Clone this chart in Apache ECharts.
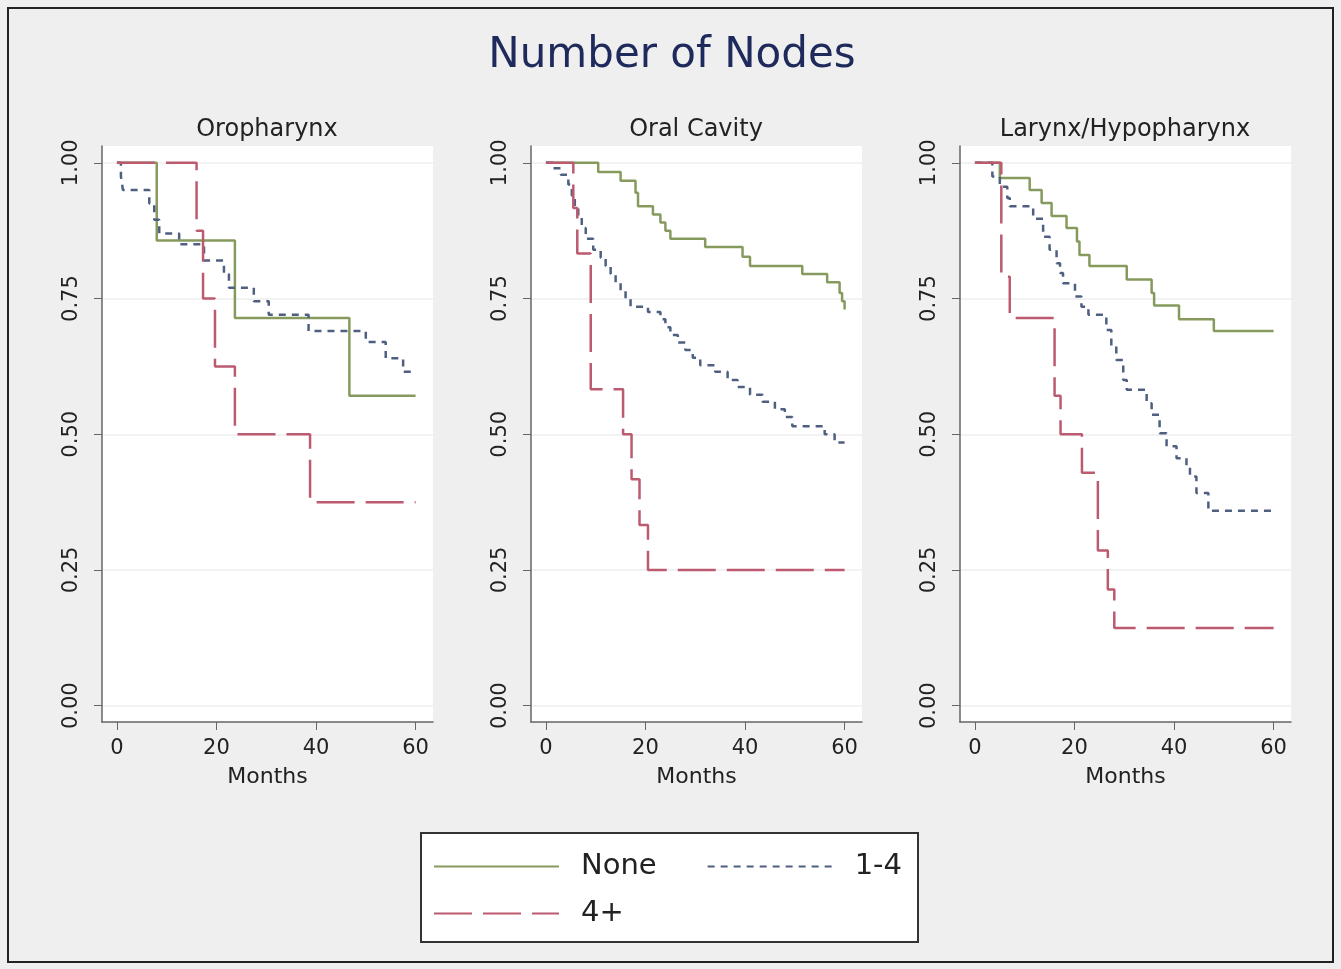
<!DOCTYPE html>
<html>
<head>
<meta charset="utf-8">
<script src="https://cdn.jsdelivr.net/npm/echarts@6/dist/echarts.min.js"></script>
<style>
  html, body { margin: 0; padding: 0; background: #efefef; }
  #chart { width: 1341px; height: 969px; }
</style>
</head>
<body>
<div id="chart"></div>
<script>
// panel titles and groups
var panels = ['Oropharynx', 'Oral Cavity', 'Larynx/Hypopharynx'];
var groups = ['None', '1-4', '4+'];
var xTicks = [0, 20, 40, 60];
var yTicks = [0, 0.25, 0.5, 0.75, 1];

// Kaplan-Meier steps: [month, survival after that month]
var oroNone = [[0, 1], [8, 0.857], [23.7, 0.714], [46.7, 0.571], [60, 0.571]];
var oroMid = [[0, 1], [0.8, 0.975], [1.2, 0.95], [6.5, 0.925], [7.5, 0.895], [8.5, 0.87], [12.5, 0.85],
  [17.5, 0.82], [21.5, 0.795], [22.5, 0.77], [27.5, 0.745], [30.5, 0.72], [38.5, 0.69], [50, 0.67],
  [54, 0.64], [57.5, 0.615], [60, 0.615]];
var oroHigh = [[0, 1], [16, 0.875], [17.3, 0.75], [19.7, 0.625], [23.7, 0.5], [38.8, 0.375], [60, 0.375]];

var ocNone = [[0, 1], [10.5, 0.983], [15, 0.967], [18, 0.945], [18.5, 0.92], [21.5, 0.905], [23, 0.89],
  [24, 0.875], [25, 0.86], [32, 0.845], [39.5, 0.827], [41, 0.81], [51.5, 0.795], [56.5, 0.78],
  [59, 0.76], [59.5, 0.745], [60, 0.73]];
var ocMid = [[0, 1], [1.5, 0.99], [3, 0.978], [4.5, 0.96], [5.2, 0.94], [5.8, 0.92], [6.5, 0.9], [7.2, 0.88],
  [8, 0.86], [9.5, 0.84], [11, 0.825], [12, 0.81], [13, 0.795], [14, 0.78], [15, 0.765], [16, 0.75],
  [17, 0.735], [20.5, 0.725], [23, 0.712], [24, 0.697], [25, 0.683], [26.5, 0.669], [28, 0.655],
  [29.5, 0.641], [31, 0.627], [34, 0.615], [36.5, 0.6], [38.5, 0.587], [41, 0.573], [43.5, 0.56],
  [46, 0.546], [48, 0.532], [49.5, 0.515], [56, 0.5], [58, 0.485], [60, 0.485]];
var ocHigh = [[0, 1], [5.5, 0.917], [6.3, 0.833], [9, 0.583], [15.5, 0.5], [17.2, 0.417], [18.8, 0.333],
  [20.5, 0.25], [60, 0.25]];

var lhNone = [[0, 1], [5, 0.972], [11, 0.95], [13.4, 0.926], [15.4, 0.902], [18.4, 0.88], [20.5, 0.855],
  [21, 0.83], [23, 0.81], [30.5, 0.785], [35.5, 0.76], [36, 0.737], [41, 0.712], [48, 0.69], [60, 0.69]];
var lhMid = [[0, 1], [3.5, 0.975], [5, 0.956], [6.5, 0.935], [7, 0.92], [11.7, 0.897], [13.7, 0.864],
  [15, 0.84], [16.4, 0.815], [17.1, 0.797], [17.7, 0.778], [20.1, 0.754], [21.4, 0.735], [22.8, 0.72],
  [26.4, 0.692], [27.4, 0.662], [28.4, 0.637], [29.8, 0.6], [30.5, 0.582], [34.5, 0.557], [35.5, 0.536],
  [37.1, 0.502], [38.5, 0.478], [40.5, 0.456], [42.5, 0.44], [43.2, 0.422], [44.5, 0.392],
  [46.9, 0.359], [60, 0.359]];
var lhHigh = [[0, 1], [5.3, 0.79], [7, 0.714], [16, 0.571], [17.2, 0.5], [21.5, 0.429], [24.7, 0.286],
  [26.7, 0.214], [28, 0.143], [60, 0.143]];

var panelData = [[oroNone, oroMid, oroHigh], [ocNone, ocMid, ocHigh], [lhNone, lhMid, lhHigh]];

var colors = ['#879a5e', '#4f5f80', '#bc5a70'];
var dashes = ['solid', [7, 6], [38, 11]];
var font = 'DejaVu Sans';

var chart = echarts.init(document.getElementById('chart'));

var grids = [], xAxes = [], yAxes = [], series = [], graphics = [];
var lefts = [102, 531, 960];

graphics.push({
  type: 'rect', z: 0,
  shape: { x: 8, y: 8, width: 1325, height: 954 },
  style: { fill: 'none', stroke: '#222', lineWidth: 2 }
});
graphics.push({
  type: 'text', z: 5, x: 672, y: 56,
  style: { text: 'Number of Nodes', fill: '#1f2a5c', font: '42px ' + font, textAlign: 'center', textVerticalAlign: 'middle' }
});
graphics.push({
  type: 'rect', z: 0,
  shape: { x: 421, y: 833, width: 497, height: 109 },
  style: { fill: '#fff', stroke: '#333', lineWidth: 2 }
});

for (var p = 0; p < 3; p++) {
  grids.push({
    left: lefts[p], top: 146, width: 331, height: 576,
    show: true, backgroundColor: '#fff', borderWidth: 0
  });
  graphics.push({
    type: 'text', z: 5, x: lefts[p] + 165, y: 130,
    style: { text: panels[p], fill: '#222', font: '24px ' + font, textAlign: 'center', textVerticalAlign: 'middle' }
  });
  xAxes.push({
    gridIndex: p, type: 'value', min: -3, max: 63.5,
    name: 'Months', nameLocation: 'middle', nameGap: 44,
    nameTextStyle: { fontFamily: font, fontSize: 22, color: '#222' },
    axisLine: { show: true, onZero: false, lineStyle: { color: '#666', width: 1.5 } },
    axisTick: { show: true, length: 8, customValues: xTicks, lineStyle: { color: '#666' } },
    axisLabel: { customValues: xTicks, margin: 16, fontFamily: font, fontSize: 21, color: '#222' },
    splitLine: { show: false }
  });
  yAxes.push({
    gridIndex: p, type: 'value', min: -0.03, max: 1.031,
    axisLine: { show: true, onZero: false, lineStyle: { color: '#666', width: 1.5 } },
    axisTick: { show: true, length: 8, customValues: yTicks, lineStyle: { color: '#666' } },
    axisLabel: {
      customValues: yTicks, rotate: 90, margin: 20, fontFamily: font, fontSize: 21, color: '#222',
      formatter: function (v) { return v.toFixed(2); }
    },
    splitLine: { show: true, lineStyle: { color: '#eeeeee', width: 1.5 } }
  });
  for (var g = 0; g < 3; g++) {
    series.push({
      name: groups[g], type: 'line', step: 'end',
      xAxisIndex: p, yAxisIndex: p,
      data: panelData[p][g],
      symbol: 'none', silent: true,
      lineStyle: { color: colors[g], width: 2.5, type: dashes[g] },
      itemStyle: { color: colors[g] },
      z: 2 + g
    });
  }
}

var legendCommon = {
  left: 433, orient: 'horizontal', padding: 0,
  itemWidth: 125, itemHeight: 20, itemGap: 50, selectedMode: false,
  itemStyle: { opacity: 0 },
  textStyle: { fontFamily: font, fontSize: 29, color: '#222', padding: [0, 0, 0, 17] }
};

chart.setOption({
  backgroundColor: '#efefef',
  animation: false,
  grid: grids,
  xAxis: xAxes,
  yAxis: yAxes,
  legend: [
    Object.assign({ data: ['None', '1-4'], top: 852 }, legendCommon),
    Object.assign({ data: ['4+'], top: 899 }, legendCommon)
  ],
  graphic: graphics,
  series: series
});
</script>
</body>
</html>
